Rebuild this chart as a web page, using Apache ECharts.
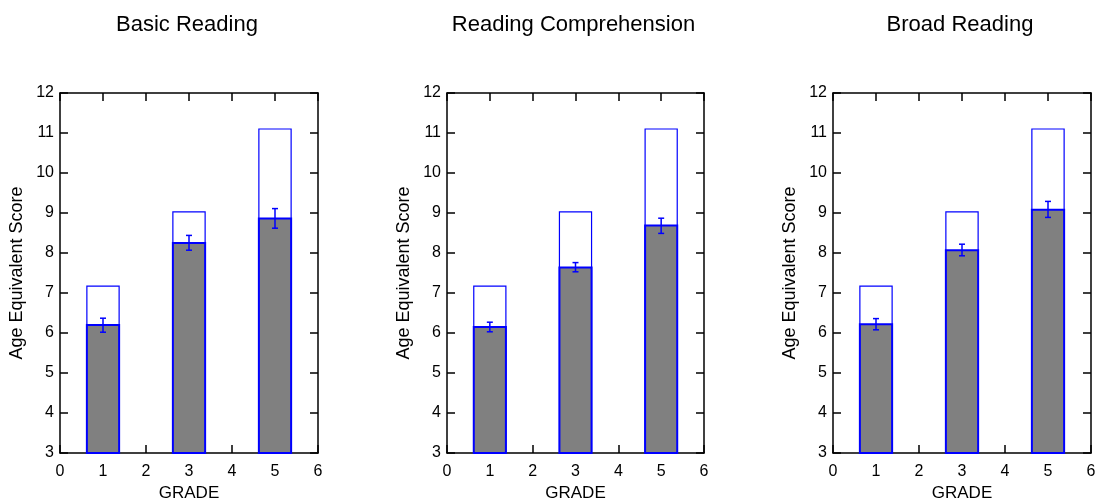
<!DOCTYPE html>
<html><head><meta charset="utf-8">
<script src="https://cdn.jsdelivr.net/npm/echarts@6/dist/echarts.min.js"></script>
<style>html,body{margin:0;padding:0;background:#fff}#c{width:1101px;height:501px}</style>
</head><body><div id="c"></div>
<script>
// ---- data ----
const panelTitles = ['Basic Reading', 'Reading Comprehension', 'Broad Reading'];
const grades = [1, 3, 5];
const expectedAge = [7.17, 9.03, 11.1];
const basicMean = [6.20, 8.25, 8.86];
const basicLow  = [6.02, 8.07, 8.62];
const basicHigh = [6.37, 8.44, 9.11];
const compMean = [6.15, 7.64, 8.69];
const compLow  = [6.03, 7.53, 8.49];
const compHigh = [6.27, 7.76, 8.87];
const broadMean = [6.22, 8.07, 9.08];
const broadLow  = [6.08, 7.93, 8.89];
const broadHigh = [6.36, 8.22, 9.29];
const xLabel = 'GRADE';
const yLabel = 'Age Equivalent Score';

// ---- layout ----
const FONT = 'Liberation Sans, Arial, sans-serif';
const grids = [
  {left: 60, width: 258},
  {left: 447, width: 257},
  {left: 833, width: 258}
];
const TOP = 93, BOTTOM = 48;
const BAR_HALF = 0.375;
const Y_MIN = 3, Y_MAX = 12;
const panels = [
  {mean: basicMean, low: basicLow, high: basicHigh},
  {mean: compMean, low: compLow, high: compHigh},
  {mean: broadMean, low: broadLow, high: broadHigh}
];

function barRender(fill, stroke, lw) {
  return function (params, api) {
    const x = api.value(0), y = api.value(1);
    const p0 = api.coord([x - BAR_HALF, Y_MIN]);
    const p1 = api.coord([x + BAR_HALF, y]);
    return {
      type: 'rect',
      shape: {x: p0[0], y: p1[1], width: p1[0] - p0[0], height: p0[1] - p1[1]},
      style: {fill: fill, stroke: stroke, lineWidth: lw}
    };
  };
}
function errRender(params, api) {
  const x = api.value(0);
  const lo = api.coord([x, api.value(1)]);
  const hi = api.coord([x, api.value(2)]);
  const c = 3;
  const st = {stroke: '#0000ff', lineWidth: 1.5};
  return {
    type: 'group',
    children: [
      {type: 'line', shape: {x1: lo[0], y1: lo[1], x2: hi[0], y2: hi[1]}, style: st},
      {type: 'line', shape: {x1: lo[0] - c, y1: lo[1], x2: lo[0] + c, y2: lo[1]}, style: st},
      {type: 'line', shape: {x1: hi[0] - c, y1: hi[1], x2: hi[0] + c, y2: hi[1]}, style: st}
    ]
  };
}

const axisLine = {show: true, onZero: false, lineStyle: {color: '#000', width: 1.5}};
const axisTick = {show: true, inside: true, length: 8, lineStyle: {color: '#000', width: 1.5}};

const option = {
  animation: false,
  backgroundColor: '#fff',
  title: [], grid: [], xAxis: [], yAxis: [], series: []
};

grids.forEach((g, i) => {
  option.title.push({
    text: panelTitles[i], left: g.left + g.width / 2 - 7, top: 9, textAlign: 'center',
    textStyle: {fontFamily: FONT, fontSize: 22, fontWeight: 'normal', color: '#000'}
  });
  option.grid.push({left: g.left, width: g.width, top: TOP, bottom: BOTTOM,
    containLabel: false, outerBoundsMode: 'none'});
  option.xAxis.push({
    type: 'value', gridIndex: i, min: 0, max: 6, interval: 1, position: 'bottom',
    axisLine: axisLine, axisTick: axisTick, splitLine: {show: false},
    axisLabel: {fontFamily: FONT, fontSize: 16, color: '#000', margin: 11},
    name: xLabel, nameLocation: 'middle', nameGap: 30,
    nameTextStyle: {fontFamily: FONT, fontSize: 17, color: '#000'}
  });
  option.xAxis.push({
    type: 'value', gridIndex: i, min: 0, max: 6, interval: 1, position: 'top',
    axisLine: axisLine, axisTick: axisTick, splitLine: {show: false}, axisLabel: {show: false}
  });
  option.yAxis.push({
    type: 'value', gridIndex: i, min: Y_MIN, max: Y_MAX, interval: 1, position: 'left',
    axisLine: axisLine, axisTick: axisTick, splitLine: {show: false},
    axisLabel: {fontFamily: FONT, fontSize: 16, color: '#000', margin: 6},
    name: yLabel, nameLocation: 'middle', nameGap: 34,
    nameTextStyle: {fontFamily: FONT, fontSize: 18, color: '#000'}
  });
  option.yAxis.push({
    type: 'value', gridIndex: i, min: Y_MIN, max: Y_MAX, interval: 1, position: 'right',
    axisLine: axisLine, axisTick: axisTick, splitLine: {show: false}, axisLabel: {show: false}
  });
  const p = panels[i];
  option.series.push({
    type: 'custom', xAxisIndex: 2 * i, yAxisIndex: 2 * i,
    renderItem: barRender('#ffffff', '#0000ff', 1.2),
    data: grades.map((gr, k) => [gr, expectedAge[k]]), z: 2
  });
  option.series.push({
    type: 'custom', xAxisIndex: 2 * i, yAxisIndex: 2 * i,
    renderItem: barRender('#808080', '#0000ff', 2),
    data: grades.map((gr, k) => [gr, p.mean[k]]), z: 3
  });
  option.series.push({
    type: 'custom', xAxisIndex: 2 * i, yAxisIndex: 2 * i,
    renderItem: errRender,
    data: grades.map((gr, k) => [gr, p.low[k], p.high[k]]), z: 4
  });
});

const chart = echarts.init(document.getElementById('c'), null, {renderer: 'canvas'});
chart.setOption(option);
</script>
</body></html>
